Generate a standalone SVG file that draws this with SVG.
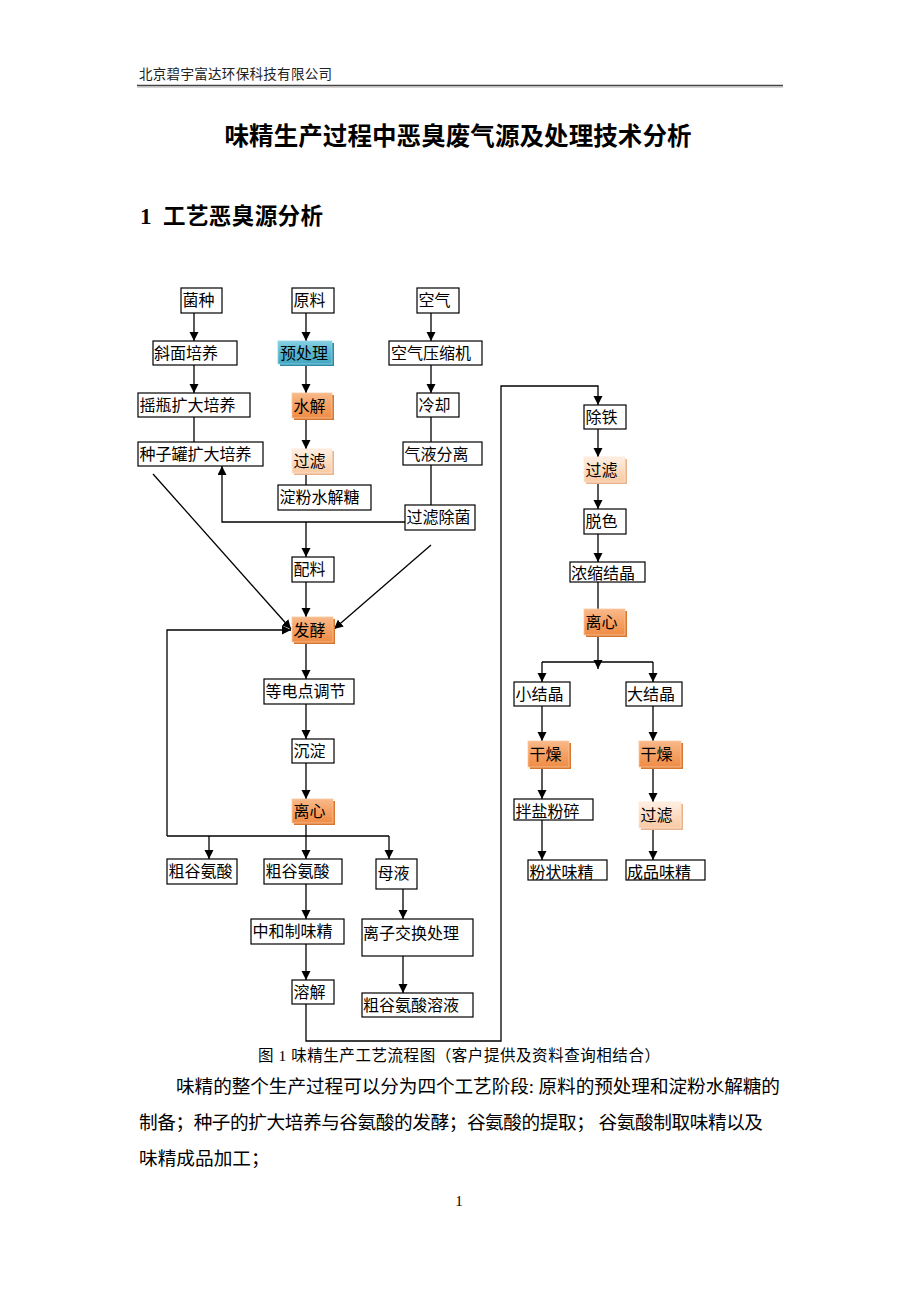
<svg xmlns="http://www.w3.org/2000/svg" width="920" height="1302" viewBox="0 0 920 1302">
<style>
.box{fill:#fff;stroke:#000;stroke-width:1.2}
.t{font-family:"Noto Sans CJK SC","Noto Sans CJK JP",sans-serif;font-size:16px;fill:#000}
.c{stroke:#000;stroke-width:1.3;fill:none}
.a{marker-end:url(#arr)}
.sh-o{fill:#d7772f}
.sh-p{fill:#eab48c}
.sh-b{fill:#2f8aa6}
.body{font-family:"Liberation Serif","Noto Sans CJK SC",serif;fill:#000}
</style>
<defs>
<marker id="arr" markerUnits="userSpaceOnUse" markerWidth="10" markerHeight="10" refX="9" refY="4.5" orient="auto">
<path d="M0,0 L9,4.5 L0,9 z" fill="#000"/>
</marker>
<linearGradient id="go" x1="0" y1="0" x2="0" y2="1">
<stop offset="0" stop-color="#f9b98a"/>
<stop offset="0.5" stop-color="#f5a164"/>
<stop offset="1" stop-color="#ef8c46"/>
</linearGradient>
<linearGradient id="gp" x1="0" y1="0" x2="0" y2="1">
<stop offset="0" stop-color="#fff0e4"/>
<stop offset="0.5" stop-color="#fddcc2"/>
<stop offset="1" stop-color="#f9c9a3"/>
</linearGradient>
<linearGradient id="gb" x1="0" y1="0" x2="0" y2="1">
<stop offset="0" stop-color="#86d0e2"/>
<stop offset="0.5" stop-color="#5bb7cf"/>
<stop offset="1" stop-color="#43a6c2"/>
</linearGradient>
</defs>
<rect width="920" height="1302" fill="#fff"/>

<!-- header -->
<text x="139" y="79" class="body" style="font-family:'Noto Sans CJK SC',sans-serif;font-size:13.5px;fill:#222" textLength="193">北京碧宇富达环保科技有限公司</text>
<line x1="137" y1="85.5" x2="783" y2="85.5" stroke="#444" stroke-width="1.5"/>
<line x1="137" y1="87" x2="783" y2="87" stroke="#aaa" stroke-width="1"/>

<text x="458" y="145" text-anchor="middle" style="font-family:'Noto Sans CJK SC',sans-serif;font-size:24.5px;font-weight:bold" textLength="467">味精生产过程中恶臭废气源及处理技术分析</text>
<text x="140" y="224" style="font-family:'Liberation Serif',serif;font-size:23px;font-weight:bold">1</text>
<text x="163" y="224" style="font-family:'Noto Sans CJK SC',sans-serif;font-size:22.5px;font-weight:bold" textLength="160">工艺恶臭源分析</text>

<!-- connectors -->
<g id="connectors">
<line class="c a" x1="194" y1="313" x2="194" y2="341"/>
<line class="c a" x1="194" y1="365" x2="194" y2="393"/>
<line class="c" x1="194" y1="417" x2="194" y2="442"/>
<line class="c a" x1="306" y1="313" x2="306" y2="341"/>
<line class="c a" x1="306" y1="364" x2="306" y2="393"/>
<line class="c a" x1="306" y1="418" x2="306" y2="449"/>
<line class="c" x1="306" y1="473" x2="306" y2="485"/>
<line class="c a" x1="431" y1="313" x2="431" y2="341"/>
<line class="c a" x1="431" y1="365" x2="431" y2="393"/>
<line class="c" x1="431" y1="417" x2="431" y2="442"/>
<line class="c" x1="431" y1="465" x2="431" y2="505"/>
<polyline class="c a" points="405,522 222,522 222,466"/>
<line class="c a" x1="306" y1="522" x2="306" y2="557"/>
<line class="c a" x1="153" y1="474" x2="291" y2="629"/>
<line class="c a" x1="431" y1="545" x2="334" y2="629"/>
<line class="c a" x1="306" y1="582" x2="306" y2="617"/>
<line class="c a" x1="306" y1="642" x2="306" y2="679"/>
<line class="c a" x1="306" y1="704" x2="306" y2="739"/>
<line class="c a" x1="306" y1="763" x2="306" y2="799"/>
<line class="c a" x1="306" y1="823" x2="306" y2="859"/>
<polyline class="c a" points="167,836 167,630 291,630"/>
<line class="c" x1="167" y1="836" x2="389" y2="836"/>
<line class="c a" x1="209" y1="836" x2="209" y2="859"/>
<line class="c a" x1="389" y1="836" x2="389" y2="859"/>
<line class="c a" x1="306" y1="884" x2="306" y2="919"/>
<line class="c a" x1="306" y1="944" x2="306" y2="980"/>
<line class="c a" x1="403" y1="889" x2="403" y2="919"/>
<line class="c a" x1="403" y1="956" x2="403" y2="993"/>
<polyline class="c a" points="306,1004 306,1041 501,1041 501,386 598,386 598,405"/>
<line class="c a" x1="598" y1="429" x2="598" y2="457"/>
<line class="c a" x1="598" y1="482" x2="598" y2="509"/>
<line class="c a" x1="598" y1="534" x2="598" y2="562"/>
<line class="c" x1="598" y1="582" x2="598" y2="609"/>
<line class="c a" x1="598" y1="635" x2="598" y2="669"/>
<line class="c" x1="542" y1="662" x2="653" y2="662"/>
<line class="c a" x1="542" y1="662" x2="542" y2="682"/>
<line class="c a" x1="653" y1="662" x2="653" y2="682"/>
<line class="c a" x1="542" y1="706" x2="542" y2="741"/>
<line class="c a" x1="653" y1="706" x2="653" y2="741"/>
<line class="c a" x1="542" y1="767" x2="542" y2="799"/>
<line class="c a" x1="653" y1="767" x2="653" y2="802"/>
<line class="c a" x1="542" y1="820" x2="542" y2="860"/>
<line class="c a" x1="653" y1="828" x2="653" y2="860"/>
</g>

<!-- nodes -->
<g id="n-junzhong"><rect class="box" x="181" y="288" width="41" height="25"/><text class="t" x="182.5" y="306">菌种</text></g>
<g id="n-yuanliao"><rect class="box" x="292" y="288" width="42" height="25"/><text class="t" x="293.5" y="306">原料</text></g>
<g id="n-kongqi"><rect class="box" x="417" y="288" width="42" height="25"/><text class="t" x="418.5" y="306">空气</text></g>
<g id="n-xiemian"><rect class="box" x="153" y="341" width="84" height="24"/><text class="t" x="154" y="359">斜面培养</text></g>
<g id="n-yuchuli"><rect class="sh-b" x="280" y="343" width="54" height="23"/><rect x="278" y="341" width="54" height="23" fill="url(#gb)" stroke="#8ed6e8" stroke-width="0.8"/><text class="t" x="280" y="359">预处理</text></g>
<g id="n-yasuoji"><rect class="box" x="389" y="341" width="93" height="24"/><text class="t" x="391" y="359">空气压缩机</text></g>
<g id="n-yaoping"><rect class="box" x="138" y="393" width="112" height="24"/><text class="t" x="139.5" y="411">摇瓶扩大培养</text></g>
<g id="n-shuijie"><rect class="sh-o" x="294" y="395" width="40" height="25"/><rect x="292" y="393" width="40" height="25" fill="url(#go)" stroke="#fbc9a0" stroke-width="0.8"/><text class="t" x="293.5" y="412">水解</text></g>
<g id="n-lengque"><rect class="box" x="417" y="393" width="42" height="24"/><text class="t" x="418.5" y="411">冷却</text></g>
<g id="n-zhongziguan"><rect class="box" x="138" y="442" width="125" height="24"/><text class="t" x="139.5" y="460">种子罐扩大培养</text></g>
<g id="n-guolv1"><rect class="sh-p" x="294" y="451" width="40" height="24"/><rect x="292" y="449" width="40" height="24" fill="url(#gp)" stroke="#fde6d4" stroke-width="0.8"/><text class="t" x="293.5" y="467">过滤</text></g>
<g id="n-qiye"><rect class="box" x="403" y="442" width="79" height="23"/><text class="t" x="404.5" y="460">气液分离</text></g>
<g id="n-dianfen"><rect class="box" x="278" y="485" width="93" height="25"/><text class="t" x="279.5" y="503">淀粉水解糖</text></g>
<g id="n-guolvchujun"><rect class="box" x="405" y="505" width="70" height="25"/><text class="t" x="406.5" y="523">过滤除菌</text></g>
<g id="n-peiliao"><rect class="box" x="292" y="557" width="42" height="25"/><text class="t" x="293.5" y="575">配料</text></g>
<g id="n-fajiao"><rect class="sh-o" x="294" y="619" width="41" height="25"/><rect x="292" y="617" width="41" height="25" fill="url(#go)" stroke="#fbc9a0" stroke-width="0.8"/><text class="t" x="293.5" y="636">发酵</text></g>
<g id="n-dengdiandian"><rect class="box" x="264" y="679" width="90" height="25"/><text class="t" x="265.5" y="697">等电点调节</text></g>
<g id="n-chendian"><rect class="box" x="292" y="739" width="42" height="24"/><text class="t" x="293.5" y="757">沉淀</text></g>
<g id="n-lixin1"><rect class="sh-o" x="294" y="801" width="41" height="24"/><rect x="292" y="799" width="41" height="24" fill="url(#go)" stroke="#fbc9a0" stroke-width="0.8"/><text class="t" x="293.5" y="817">离心</text></g>
<g id="n-cugu1"><rect class="box" x="167" y="859" width="70" height="25"/><text class="t" x="168.5" y="877">粗谷氨酸</text></g>
<g id="n-cugu2"><rect class="box" x="264" y="859" width="78" height="25"/><text class="t" x="265.5" y="877">粗谷氨酸</text></g>
<g id="n-muye"><rect class="box" x="376" y="859" width="41" height="30"/><text class="t" x="377.5" y="878.5">母液</text></g>
<g id="n-zhonghe"><rect class="box" x="251" y="919" width="93" height="25"/><text class="t" x="252.5" y="937">中和制味精</text></g>
<g id="n-lizi"><rect class="box" x="362" y="919" width="111" height="37"/><text class="t" x="363" y="938.5">离子交换处理</text></g>
<g id="n-rongjie"><rect class="box" x="292" y="980" width="42" height="24"/><text class="t" x="293.5" y="998">溶解</text></g>
<g id="n-cuguyerongye"><rect class="box" x="362" y="993" width="111" height="24"/><text class="t" x="363" y="1011">粗谷氨酸溶液</text></g>
<g id="n-chutie"><rect class="box" x="584" y="405" width="42" height="24"/><text class="t" x="585.5" y="423">除铁</text></g>
<g id="n-guolv2"><rect class="sh-p" x="586" y="459" width="41" height="25"/><rect x="584" y="457" width="41" height="25" fill="url(#gp)" stroke="#fde6d4" stroke-width="0.8"/><text class="t" x="585.5" y="476">过滤</text></g>
<g id="n-tuose"><rect class="box" x="584" y="509" width="42" height="25"/><text class="t" x="585.5" y="527">脱色</text></g>
<g id="n-nongsuo"><rect class="box" x="570" y="562" width="75" height="20"/><text class="t" x="571" y="579">浓缩结晶</text></g>
<g id="n-lixin2"><rect class="sh-o" x="586" y="611" width="41" height="26"/><rect x="584" y="609" width="41" height="26" fill="url(#go)" stroke="#fbc9a0" stroke-width="0.8"/><text class="t" x="585.5" y="628">离心</text></g>
<g id="n-xiaojiejing"><rect class="box" x="514" y="682" width="56" height="24"/><text class="t" x="515.5" y="700">小结晶</text></g>
<g id="n-dajiejing"><rect class="box" x="626" y="682" width="56" height="24"/><text class="t" x="627" y="700">大结晶</text></g>
<g id="n-ganzao1"><rect class="sh-o" x="530" y="743" width="41" height="26"/><rect x="528" y="741" width="41" height="26" fill="url(#go)" stroke="#fbc9a0" stroke-width="0.8"/><text class="t" x="529.5" y="760">干燥</text></g>
<g id="n-ganzao2"><rect class="sh-o" x="641" y="743" width="42" height="26"/><rect x="639" y="741" width="42" height="26" fill="url(#go)" stroke="#fbc9a0" stroke-width="0.8"/><text class="t" x="640.5" y="760">干燥</text></g>
<g id="n-banyan"><rect class="box" x="514" y="799" width="79" height="21"/><text class="t" x="515.5" y="816.5">拌盐粉碎</text></g>
<g id="n-guolv3"><rect class="sh-p" x="641" y="804" width="42" height="26"/><rect x="639" y="802" width="42" height="26" fill="url(#gp)" stroke="#fde6d4" stroke-width="0.8"/><text class="t" x="640.5" y="821">过滤</text></g>
<g id="n-fenzhuang"><rect class="box" x="528" y="860" width="79" height="20"/><text class="t" x="529.5" y="878">粉状味精</text></g>
<g id="n-chengpin"><rect class="box" x="626" y="860" width="79" height="20"/><text class="t" x="627" y="878">成品味精</text></g>

<!-- caption and body -->
<text class="body" x="258" y="1061" style="font-size:15.5px" textLength="402">图 1  味精生产工艺流程图（客户提供及资料查询相结合）</text>
<text class="body" x="176" y="1093" style="font-size:18.67px" textLength="604">味精的整个生产过程可以分为四个工艺阶段: 原料的预处理和淀粉水解糖的</text>
<text class="body" x="139" y="1129" style="font-size:18.67px" textLength="624">制备；种子的扩大培养与谷氨酸的发酵；谷氨酸的提取； 谷氨酸制取味精以及</text>
<text class="body" x="139" y="1165" style="font-size:18.67px">味精成品加工；</text>
<text class="body" x="459" y="1206" text-anchor="middle" style="font-size:15px">1</text>
</svg>
